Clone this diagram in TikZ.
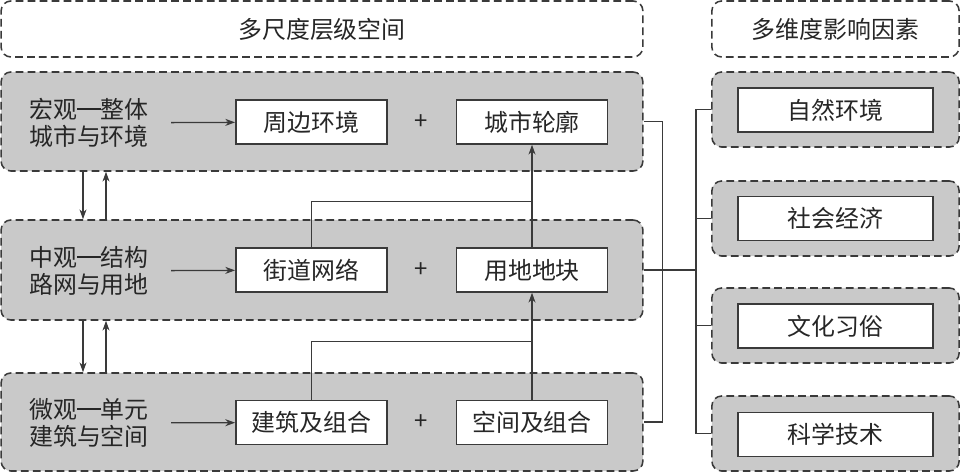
\documentclass[tikz,border=0pt]{standalone}
\usepackage{fontspec}
\setmainfont{Noto Sans CJK SC}
\usetikzlibrary{arrows.meta}
\definecolor{panelgray}{RGB}{201,201,201}
\definecolor{linegray}{RGB}{58,58,58}
\newcommand{\cjkdash}{\makebox[1em]{\rule[0.36em]{0.98em}{0.06em}}}
\tikzset{
  panel/.style={draw=linegray, line width=1.1pt, dash pattern=on 5.5pt off 3pt,
    rounded corners=7pt, fill=panelgray, inner sep=0pt},
  header/.style={panel, fill=white},
  item/.style={draw=linegray, line width=1.1pt, fill=white, minimum width=3.78cm,
    minimum height=1.1cm, inner sep=0pt},
  factor/.style={item, minimum width=4.88cm},
  link/.style={draw=linegray, line width=0.9pt},
  arrow/.style={link, -{Stealth[length=7pt,width=5pt]}},
  level/.style={align=center, inner sep=0pt},
}
\begin{document}
\begin{tikzpicture}[x=0.025cm, y=-0.025cm, font=\fontsize{17pt}{19.5pt}\selectfont, text=black!85]
\useasboundingbox (0,0) rectangle (960,473);

% headers
\node (scaleHead) [header, minimum width=16.04cm, minimum height=1.4cm] at (322,29) {多尺度层级空间};
\node (factorHead) [header, minimum width=6.18cm, minimum height=1.4cm] at (835.5,29) {多维度影响因素};

% scale levels
\node (macro) [panel, minimum width=16.04cm, minimum height=2.475cm] at (322,121.5) {};
\node (meso) [panel, minimum width=16.04cm, minimum height=2.5cm] at (322,270) {};
\node (micro) [panel, minimum width=16.04cm, minimum height=2.45cm] at (322,422) {};

\node (macroLab) [level] at (89,123) {宏观\cjkdash 整体\\城市与环境};
\node (mesoLab) [level] at (89,271) {中观\cjkdash 结构\\路网与用地};
\node (microLab) [level] at (89,423) {微观\cjkdash 单元\\建筑与空间};

\node (env) [item] at (311.5,122) {周边环境};
\node (contour) [item] at (532,122) {城市轮廓};
\node (street) [item] at (311.5,270) {街道网络};
\node (land) [item] at (532,270) {用地地块};
\node (bldg) [item] at (311.5,422.5) {建筑及组合};
\node (space) [item] at (532,422.5) {空间及组合};

\node (plus1) at (421,122) {+};
\node (plus2) at (421,270) {+};
\node (plus3) at (421,422.5) {+};

\draw [arrow, shorten <=0.55cm] (macroLab) -- (env);
\draw [arrow, shorten <=0.55cm] (mesoLab) -- (street);
\draw [arrow, shorten <=0.55cm] (microLab) -- (bldg);

\draw [arrow] (83,0 |- macro.south) -- (83,0 |- meso.north);
\draw [arrow] (106,0 |- meso.north) -- (106,0 |- macro.south);
\draw [arrow] (83,0 |- meso.south) -- (83,0 |- micro.north);
\draw [arrow] (106,0 |- micro.north) -- (106,0 |- meso.south);

\draw [arrow] (land) -- (contour);
\draw [arrow] (space) -- (land);
\draw [link] (street.north) -- ++(0,-46) -| (land.north);
\draw [link] (bldg.north) -- ++(0,-58) -| (space.north);

% factors
\node (natPanel) [panel, minimum width=6.18cm, minimum height=1.875cm] at (835.5,109.5) {};
\node (socPanel) [panel, minimum width=6.18cm, minimum height=1.875cm] at (835.5,218.5) {};
\node (culPanel) [panel, minimum width=6.18cm, minimum height=1.875cm] at (835.5,325.5) {};
\node (techPanel) [panel, minimum width=6.18cm, minimum height=1.875cm] at (835.5,433.5) {};
\node (nat) [factor] at (835.5,110) {自然环境};
\node (soc) [factor] at (835.5,218.5) {社会经济};
\node (cul) [factor] at (835.5,326) {文化习俗};
\node (tech) [factor] at (835.5,434.5) {科学技术};

\draw [link] (macro.east) -- ++(19,0) |- (micro.east);
\draw [link] (natPanel.west) -- ++(-15,0) coordinate (bus) |- (techPanel.west);
\draw [link] (socPanel.west) -- (socPanel.west -| bus);
\draw [link] (culPanel.west) -- (culPanel.west -| bus);
\draw [link] (meso.east) -- (meso.east -| bus);
\end{tikzpicture}
\end{document}
